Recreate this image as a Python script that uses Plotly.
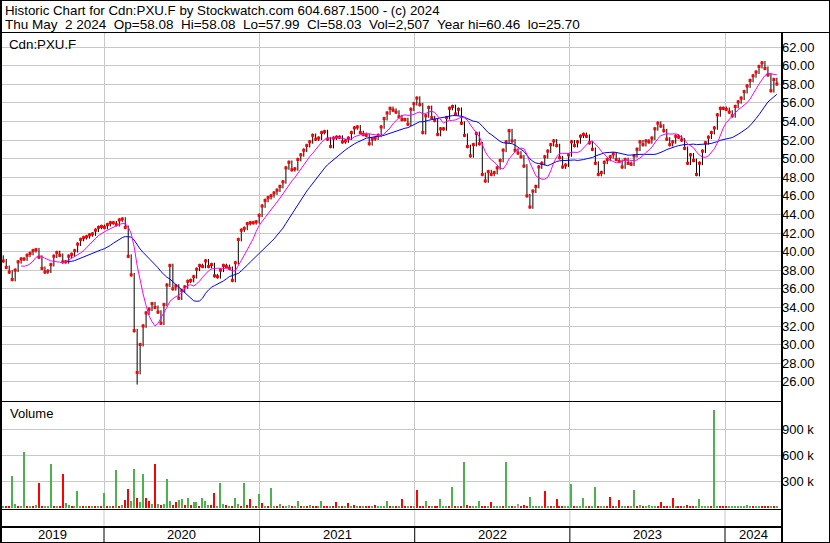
import numpy as np
import pandas as pd
import plotly.graph_objects as go

W, H = 830, 543

# ---------------- data ----------------
closes = [
    39.4, 39.0, 38.3, 37.8, 37.0, 38.0, 38.9, 39.2, 39.2, 39.6,
    39.8, 40.1, 40.2, 39.4, 38.2, 37.8, 37.9, 38.6, 39.5, 39.9,
    39.6, 38.9, 38.9, 39.5, 39.7, 40.1, 40.8, 41.3, 41.5, 41.6,
    41.8, 41.9, 42.3, 42.6, 42.7, 42.6, 42.9, 43.1, 43.1, 42.9,
    43.4, 43.5, 42.6, 39.5, 37.5, 31.5, 27.0, 30.0, 32.0, 33.4,
    33.8, 34.4, 34.0, 33.5, 32.3, 34.3, 36.4, 38.5, 36.0, 36.3,
    35.0, 35.8, 36.2, 36.8, 36.9, 37.3, 38.1, 38.5, 38.4, 39.0,
    38.4, 38.6, 37.4, 37.3, 38.0, 38.5, 38.4, 38.2, 36.9, 38.8,
    41.3, 42.3, 42.5, 43.0, 43.1, 43.1, 43.2, 43.9, 44.9, 45.5,
    45.8, 46.0, 46.3, 46.6, 47.0, 47.5, 49.0, 49.6, 48.8, 48.9,
    49.9, 50.4, 50.9, 51.4, 51.8, 52.5, 52.1, 52.2, 52.8, 52.9,
    52.1, 51.3, 52.2, 52.3, 52.3, 51.8, 51.9, 52.2, 52.8, 53.3,
    53.4, 52.8, 52.6, 52.5, 51.6, 52.1, 52.2, 52.5, 53.4, 54.3,
    54.9, 55.4, 55.2, 55.0, 54.5, 54.2, 54.2, 53.7, 55.3, 55.9,
    56.5, 55.8, 52.8, 54.6, 55.5, 54.4, 54.1, 52.6, 53.2, 53.2,
    54.4, 55.4, 55.6, 54.8, 55.3, 53.8, 52.5, 51.3, 50.3, 51.5,
    52.7, 51.6, 48.3, 47.6, 48.6, 48.3, 48.5, 49.0, 49.8, 50.9,
    51.8, 53.0, 51.9, 50.9, 50.6, 50.2, 49.2, 46.0, 44.8, 46.5,
    47.0, 49.1, 49.5, 50.2, 50.8, 51.5, 51.9, 51.4, 50.1, 49.1,
    49.3, 50.4, 51.8, 51.4, 51.8, 52.4, 52.6, 52.4, 51.7, 51.0,
    49.5, 48.3, 48.5, 49.6, 49.9, 50.2, 50.5, 49.9, 49.7, 49.1,
    49.9, 49.5, 49.4, 50.3, 51.0, 51.8, 51.5, 51.9, 51.8, 52.2,
    53.2, 53.8, 53.5, 53.0, 52.1, 51.5, 51.8, 52.4, 52.3, 52.0,
    51.1, 49.5, 50.4, 49.8, 48.3, 49.5, 50.8, 51.7, 52.3, 52.8,
    53.3, 54.7, 55.4, 55.4, 55.3, 55.0, 54.6, 55.6, 56.1, 56.5,
    57.2, 57.8, 58.4, 58.9, 59.3, 59.9, 60.3, 59.7, 59.0, 57.3,
    58.5, 58.03,
]

volumes_k = [
    75, 15, 12, 20, 363, 40, 18, 10, 640, 22,
    15, 12, 25, 286, 18, 10, 14, 505, 20, 12,
    16, 390, 50, 30, 14, 20, 190, 22, 12, 15,
    20, 14, 18, 12, 10, 171, 16, 22, 14, 433,
    20, 25, 90, 217, 75, 440, 110, 60, 390, 110,
    70, 35, 505, 40, 30, 45, 329, 70, 30, 58,
    85, 100, 30, 110, 25, 60, 60, 20, 110, 75,
    30, 25, 167, 20, 283, 40, 25, 18, 20, 113,
    35, 20, 283, 25, 100, 20, 18, 156, 50, 20,
    15, 221, 20, 18, 40, 15, 12, 30, 12, 15,
    70, 18, 12, 15, 25, 12, 10, 20, 75, 14,
    12, 10, 15, 60, 12, 10, 14, 55, 12, 25,
    12, 10, 15, 12, 20, 14, 25, 10, 12, 15,
    70, 12, 10, 15, 12, 98, 20, 15, 12, 14,
    200, 12, 20, 75, 12, 18, 10, 15, 100, 12,
    20, 15, 236, 12, 18, 15, 525, 25, 12, 15,
    15, 70, 20, 18, 12, 60, 15, 12, 18, 14,
    525, 15, 12, 20, 40, 14, 25, 12, 120, 18,
    12, 15, 20, 190, 12, 14, 18, 100, 12, 18,
    12, 15, 270, 12, 18, 14, 110, 15, 10, 12,
    236, 12, 18, 10, 15, 125, 12, 14, 85, 12,
    14, 10, 15, 200, 12, 25, 15, 12, 25, 12,
    15, 12, 60, 10, 14, 12, 110, 15, 12, 10,
    12, 25, 15, 10, 12, 100, 12, 15, 10, 14,
    1125, 12, 10, 14, 12, 10, 15, 12, 10, 14,
    12, 25, 10, 14, 12, 10, 15, 12, 14, 10,
    8, 10,
]

volume_dir = (
    "rgrrggrggr" "grgrrgggrg" "rrggrgggrg" "rgrgrgrgrg" "rgrrggrggr"
    "rgrgrgggrr" "ggrgrggrgg" "grrgggrgrg" "grgrrgrgrg" "rggrgrgnrg"
    "grgrgrrggr" "rgrrgrgrgr" "grgrrgrggg" "grgrgrrgrg" "rrrgrgrrgg"
    "grgrgrgrrg" "ggrrgrgggr" "ggrgnrrrgg" "gggrgrgrrr" "gggrggggrg"
    "grggrrrgrg" "grggrgrggg" "grrrrgrgrr" "grrrgggggr" "ggrrrggggg"
    "gggrggrrrg" "rg"
)

last_date = "2024-05-02"
year_labels = ["2019", "2020", "2021", "2022", "2023", "2024"]
price_ticks = list(range(26, 63, 2))
volume_ticks = [300000, 600000, 900000]
volume_tick_text = ["300 k", "600 k", "900 k"]
header1 = "Historic Chart for Cdn:PXU.F by Stockwatch.com 604.687.1500 - (c) 2024"
header2 = "Thu May  2 2024  Op=58.08  Hi=58.08  Lo=57.99  Cl=58.03  Vol=2,507  Year hi=60.46  lo=25.70"
symbol_label = "Cdn:PXU.F"
year_hi, year_lo = 60.46, 25.70

# ---------------- derived series ----------------
dates = pd.date_range(end=last_date, periods=len(closes), freq="7D")
c = np.array(closes, dtype=float)
prev = np.concatenate([[c[0]], c[:-1]])
hi = np.maximum(prev, c) + 0.2
lo = np.minimum(prev, c) - 0.2
hi[int(np.argmax(c))] = year_hi
lo[int(np.argmin(c))] = year_lo
ma_fast = pd.Series(c).rolling(8).mean()
ma_slow = pd.Series(c).rolling(23).mean()

bx, by = [], []
for d, l, h in zip(dates, lo, hi):
    bx += [d, d, None]
    by += [l, h, None]

col_map = {"g": "#4cb34c", "r": "#ff0000", "n": "#a0a0a0"}
vol_colors = [col_map[ch] for ch in volume_dir]
vol = np.array(volumes_k) * 1000

# ---------------- pixel geometry ----------------
def fx(p):
    return p / W

def fy(p):
    return 1 - p / H

ppd = (725 - 104) / 1461.0          # pixels per day
r0 = pd.Timestamp("2020-01-01") - pd.Timedelta(days=104 / ppd)
r1 = r0 + pd.Timedelta(days=781 / ppd)

def price_at(ypix):
    return 62 - (ypix - 47) / 9.3

def vol_at(ypix):
    return (507.5 - ypix) * 300000 / 26

FONT = "Arial, Liberation Sans, sans-serif"
GRID = "#c8c8c8"

fig = go.Figure()
fig.add_trace(go.Scatter(x=bx, y=by, mode="lines", line=dict(color="black", width=1),
                         xaxis="x", yaxis="y", hoverinfo="skip"))
fig.add_trace(go.Scatter(x=dates, y=c, mode="markers",
                         marker=dict(symbol="square", size=3, color="#ff0000", line=dict(width=0)),
                         xaxis="x", yaxis="y"))
fig.add_trace(go.Scatter(x=dates, y=ma_slow, mode="lines", line=dict(color="#0000ff", width=1),
                         xaxis="x", yaxis="y"))
fig.add_trace(go.Scatter(x=dates, y=ma_fast, mode="lines", line=dict(color="#ff00ff", width=1),
                         xaxis="x", yaxis="y"))
fig.add_trace(go.Bar(x=dates, y=vol, marker=dict(color=vol_colors, line=dict(width=0)),
                     width=3.2 * 86400000, xaxis="x2", yaxis="y2"))

xcommon = dict(type="date", range=[r0, r1], showgrid=True, gridcolor=GRID, gridwidth=1,
               tick0="2020-01-01", dtick="M12", showticklabels=False, ticks="",
               zeroline=False, showline=False, fixedrange=True)

fig.update_layout(
    width=W, height=H, margin=dict(l=0, r=0, t=0, b=0),
    paper_bgcolor="white", plot_bgcolor="white", showlegend=False, bargap=0,
    xaxis=dict(domain=[0, fx(781)], anchor="y", **xcommon),
    xaxis2=dict(domain=[0, fx(781)], anchor="y2", **xcommon),
    yaxis=dict(domain=[fy(401), fy(33)], anchor="x", side="right",
               range=[price_at(401), price_at(33)],
               tickvals=price_ticks, ticktext=[f"{v:.2f}" for v in price_ticks],
               tickfont=dict(family=FONT, size=13, color="black"),
               showgrid=True, gridcolor=GRID, zeroline=False, ticks="", fixedrange=True),
    yaxis2=dict(domain=[fy(509), fy(401)], anchor="x2", side="right",
                range=[vol_at(509), vol_at(401)],
                tickvals=volume_ticks, ticktext=volume_tick_text,
                tickfont=dict(family=FONT, size=13, color="black"),
                showgrid=True, gridcolor=GRID, zeroline=False, ticks="", fixedrange=True),
)

shapes = []
def pline(x0, y0, x1, y1, w=1, color="black"):
    shapes.append(dict(type="line", xref="paper", yref="paper",
                       x0=fx(x0), y0=fy(y0), x1=fx(x1), y1=fy(y1),
                       line=dict(color=color, width=w)))

pline(0.5, 0, 0.5, H, 3)
pline(829.5, 0, 829.5, H, 1)
pline(0, 0.5, W, 0.5, 1)
pline(0, 542.5, W, 542.5, 1)
pline(0, 32.5, W, 32.5, 1)
pline(782, 32.5, 782, H, 2)
pline(0, 401.5, 782, 401.5, 1)
pline(0, 509.5, 782, 509.5, 1)
pline(0, 527, 782, 527, 2)

for yl in year_labels[1:]:
    d = pd.Timestamp(f"{yl}-01-01")
    shapes.append(dict(type="line", xref="x", yref="paper", x0=d, x1=d,
                       y0=fy(510), y1=fy(526), line=dict(color=GRID, width=1)))
    shapes.append(dict(type="line", xref="x", yref="paper", x0=d, x1=d,
                       y0=fy(528), y1=fy(542), line=dict(color="black", width=1)))

annotations = [
    dict(text=header1, xref="paper", yref="paper", x=fx(3), y=fy(1), xanchor="left", yanchor="top",
         showarrow=False, font=dict(family=FONT, size=13.3, color="black")),
    dict(text=header2.replace(" ", "\u00a0"), xref="paper", yref="paper", x=fx(3), y=fy(15),
         xanchor="left", yanchor="top", showarrow=False,
         font=dict(family=FONT, size=13.5, color="black")),
    dict(text=symbol_label, xref="paper", yref="paper", x=fx(7), y=fy(35), xanchor="left",
         yanchor="top", showarrow=False, font=dict(family=FONT, size=13.3, color="black")),
    dict(text="Volume", xref="paper", yref="paper", x=fx(8), y=fy(404), xanchor="left",
         yanchor="top", showarrow=False, font=dict(family=FONT, size=13, color="black")),
]
for yl in year_labels:
    a = max(pd.Timestamp(f"{yl}-01-01"), r0)
    b = min(pd.Timestamp(f"{int(yl) + 1}-01-01"), r1)
    mid = a + (b - a) / 2
    annotations.append(dict(text=yl, xref="x", yref="paper", x=mid, y=fy(534.5),
                            xanchor="center", yanchor="middle", showarrow=False,
                            font=dict(family=FONT, size=13, color="black")))

fig.update_layout(shapes=shapes, annotations=annotations)
fig.write_html("out.html", config={"displayModeBar": False},
               post_script="document.body.style.margin='0';")
